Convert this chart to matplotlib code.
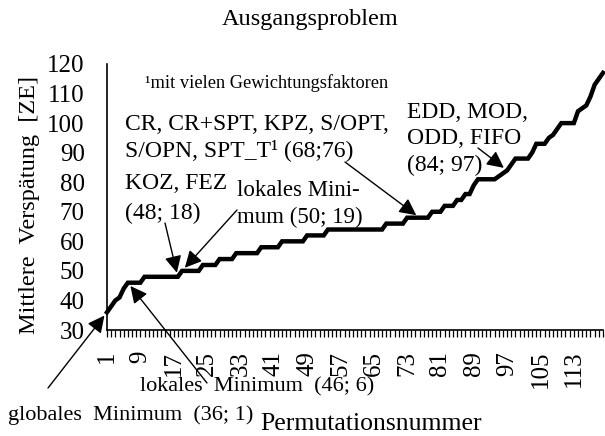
import matplotlib
matplotlib.use("Agg")
import matplotlib.pyplot as plt
import numpy as np

# ---- data ----
perm = list(range(1, 121))
delay = [36, 38, 40, 41, 44,
         46, 46, 46, 46,
         48, 48, 48, 48, 48, 48, 48, 48, 48,
         50, 50, 50, 50, 50,
         52, 52, 52, 52,
         54, 54, 54, 54,
         56, 56, 56, 56, 56, 56,
         58, 58, 58, 58, 58,
         60, 60, 60, 60, 60, 60,
         62, 62, 62, 62, 62,
         64, 64, 64, 64, 64, 64, 64, 64, 64, 64, 64, 64, 64, 64,
         66, 66, 66, 66, 66,
         68, 68, 68, 68, 68, 68,
         70, 70, 70,
         72, 72, 72,
         74, 74,
         76, 76,
         79,
         81, 81, 81, 81, 81,
         82, 83, 84, 86,
         88, 88, 88, 88,
         90,
         93, 93, 93,
         95, 96, 98,
         100, 100, 100, 100,
         104, 105, 106, 109, 113, 115, 117]
xtick_vals = list(range(1, 121, 8))
ytick_vals = list(range(30, 121, 10))

# annotation points (value; permutation)
ann_points = [(1, 36), (6, 46), (18, 48), (19, 50), (76, 68), (97, 84)]

W, H = 605, 436
plt.rcParams['font.family'] = ['Liberation Serif', 'DejaVu Serif']
fig = plt.figure(figsize=(W / 100, H / 100), dpi=100)

def P(x, y):
    return (x / W, 1 - y / H)

ax = fig.add_axes([107 / W, 1 - 330 / H, (603 - 107) / W, (330 - 64) / H])
ax.plot(perm, delay, color='black', lw=3.2, solid_joinstyle='miter', clip_on=False, zorder=3)
ax.set_xlim(1, 120)
ax.set_ylim(30, 120)
for s in ['top', 'right']:
    ax.spines[s].set_visible(False)
ax.spines['left'].set_linewidth(1.2)
ax.spines['bottom'].set_linewidth(1.2)
ax.set_xticks(xtick_vals)
ax.set_xticklabels([str(v) for v in xtick_vals], rotation=90, fontsize=18)
ax.set_xticks(perm, minor=True)
ax.tick_params(axis='x', which='both', direction='out', length=5, width=0.9, pad=10)
ax.set_yticks(ytick_vals)
ax.set_yticklabels([str(v) for v in ytick_vals], fontsize=18)
ax.tick_params(axis='y', length=0, pad=16)

# titles / labels
fig.text(*P(310, 20), 'Ausgangsproblem', ha='center', va='center', fontsize=17.5)
fig.text(*P(30, 205), 'Mittlere  Verspätung  [ZE]', ha='center', va='center', rotation=90, fontsize=17.5)
fig.text(*P(371, 424), 'Permutationsnummer', ha='center', va='center', fontsize=18.5)

fig.text(*P(145, 83), '¹mit vielen Gewichtungsfaktoren', ha='left', va='center', fontsize=13.2)
fig.text(*P(125, 125), 'CR, CR+SPT, KPZ, S/OPT,', ha='left', va='center', fontsize=17)
fig.text(*P(125, 150), 'S/OPN, SPT_T¹ (68;76)', ha='left', va='center', fontsize=17)
fig.text(*P(125, 183), 'KOZ, FEZ', ha='left', va='center', fontsize=17)
fig.text(*P(125, 213), '(48; 18)', ha='left', va='center', fontsize=17)
fig.text(*P(237, 190), 'lokales Mini-', ha='left', va='center', fontsize=16.5)
fig.text(*P(237, 217), 'mum (50; 19)', ha='left', va='center', fontsize=16.5)
fig.text(*P(407, 113), 'EDD, MOD,', ha='left', va='center', fontsize=17)
fig.text(*P(407, 138), 'ODD, FIFO', ha='left', va='center', fontsize=17)
fig.text(*P(407, 165), '(84; 97)', ha='left', va='center', fontsize=17)
fig.text(*P(140, 387), 'lokales  Minimum  (46; 6)', ha='left', va='center', fontsize=16)
fig.text(*P(8, 415), 'globales  Minimum  (36; 1)', ha='left', va='center', fontsize=16)

# arrows: tails in pixel coords
tails = [(48, 388), (207, 383), (165, 223), (237, 210), (345, 162), (478, 148)]
for (px, py), (xv, yv) in zip(tails, ann_points):
    ax.annotate('', xy=(xv, yv), xycoords='data',
                xytext=P(px, py), textcoords='figure fraction',
                arrowprops=dict(arrowstyle='-|>,head_length=0.6,head_width=0.3', color='black',
                                lw=1.0, shrinkA=0, shrinkB=3, mutation_scale=17),
                annotation_clip=False, zorder=4)

fig.savefig('out.png', dpi=100)
